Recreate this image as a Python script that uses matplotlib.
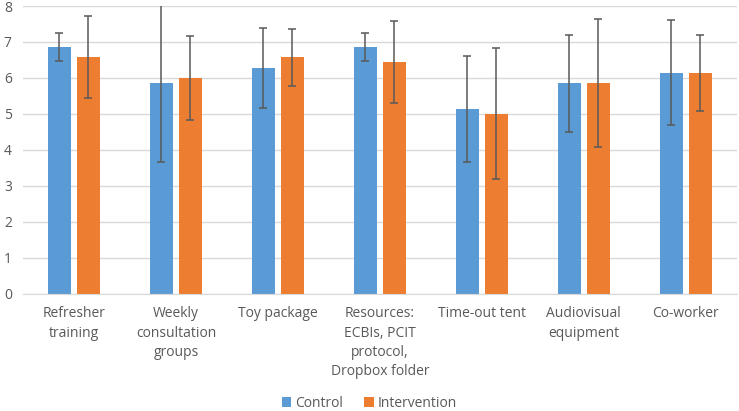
import numpy as np
import matplotlib.pyplot as plt

categories = ["Refresher\ntraining", "Weekly\nconsultation\ngroups", "Toy package",
              "Resources:\nECBIs, PCIT\nprotocol,\nDropbox folder", "Time-out tent",
              "Audiovisual\nequipment", "Co-worker"]
control = [6.86, 5.85, 6.28, 6.86, 5.14, 5.85, 6.14]
control_err = [0.38, 2.2, 1.12, 0.38, 1.47, 1.35, 1.46]
intervention = [6.57, 6.0, 6.57, 6.43, 5.0, 5.86, 6.14]
intervention_err = [1.14, 1.16, 0.79, 1.14, 1.82, 1.77, 1.06]

blue = "#5B9BD5"
orange = "#ED7D31"
grey_text = "#595959"

plt.rcParams['font.family'] = ['Open Sans', 'DejaVu Sans']

fig = plt.figure(figsize=(7.39, 4.11), dpi=100)
ax = fig.add_axes([0.031, 0.2854, 0.966, 0.70])

x = np.arange(len(categories))
w = 0.225
off = 0.142
ax.bar(x - off, control, w, color=blue, label="Control", zorder=2)
ax.bar(x + off, intervention, w, color=orange, label="Intervention", zorder=2)
# error bars
ax.errorbar(x - off, control, yerr=control_err, fmt="none", ecolor=grey_text,
            elinewidth=1.1, capsize=3, capthick=1.1, zorder=3)
ax.errorbar(x + off, intervention, yerr=intervention_err, fmt="none", ecolor=grey_text,
            elinewidth=1.1, capsize=3, capthick=1.1, zorder=3)

ax.set_ylim(0, 8)
ax.set_xlim(-0.5, len(categories) - 0.5)
ax.set_yticks(range(0, 9))
ax.yaxis.grid(True, color="#D9D9D9", linewidth=1, zorder=0)
ax.set_axisbelow(True)
for s in ["top", "right", "left"]:
    ax.spines[s].set_visible(False)
ax.spines["bottom"].set_color("#D9D9D9")
ax.set_xticks(x)
ax.set_xticklabels(categories, fontsize=10, color=grey_text, linespacing=1.4, va="top")
ax.tick_params(axis="both", length=0, labelcolor=grey_text, labelsize=10)
ax.tick_params(axis="x", pad=9)
ax.tick_params(axis="y", pad=8)

fig.legend(loc="lower center", ncol=2, frameon=False, fontsize=10,
           bbox_to_anchor=(0.5, -0.03), handlelength=0.7, handleheight=0.7,
           columnspacing=1.5, handletextpad=0.3, labelcolor=grey_text)

fig.savefig("out.png", dpi=100)
